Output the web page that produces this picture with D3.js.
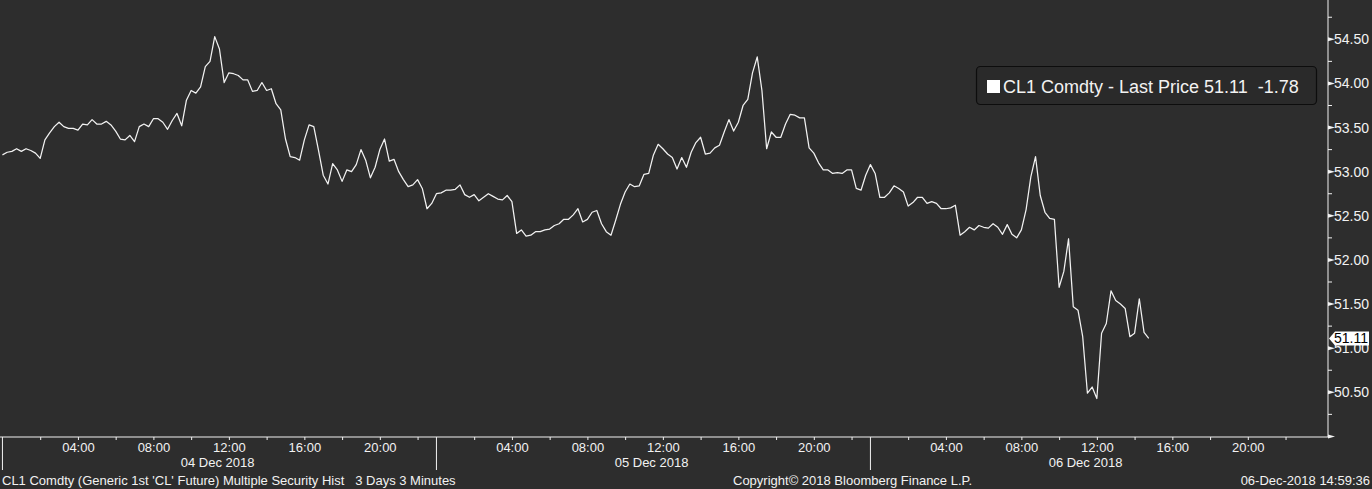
<!DOCTYPE html>
<html>
<head>
<meta charset="utf-8">
<script src="https://cdn.jsdelivr.net/npm/d3@7/dist/d3.min.js"></script>
<style>
html,body{margin:0;padding:0;background:#2d2d2d;}
svg{display:block;}
text{font-family:"Liberation Sans",Arial,sans-serif;}
</style>
</head>
<body>
<svg id="chart" width="1372" height="489"></svg>
<script>
// ---- data ----
const seriesName = "CL1 Comdty - Last Price";
const lastPrice = 51.11;
const netChange = -1.78;
const days = ["04 Dec 2018", "05 Dec 2018", "06 Dec 2018"];
const sessionHours = 23;          // trading hours per day (23:00-24:00 break)
const stepMinutes = 15;           // spacing of the sampled prices below
const hourTicks = [2,4,6,8,10,12,14,16,18,20,22];
const hourLabels = ["04:00","08:00","12:00","16:00","20:00"];
const priceTicks = [50.00,50.50,51.00,51.50,52.00,52.50,53.00,53.50,54.00,54.50];
const priceMinor = [50.25,50.75,51.25,51.75,52.25,52.75,53.25,53.75,54.25,54.75];
const prices = [
53.19,53.22,53.23,53.26,53.23,53.26,53.24,53.21,53.15,53.36,
53.44,53.51,53.56,53.51,53.49,53.49,53.47,53.54,53.53,53.59,
53.54,53.54,53.57,53.53,53.46,53.37,53.36,53.41,53.34,53.51,
53.54,53.51,53.60,53.60,53.56,53.48,53.58,53.66,53.52,53.81,
53.92,53.89,53.96,54.19,54.25,54.53,54.39,54.01,54.12,54.11,
54.09,54.04,54.04,53.91,53.92,54.01,53.92,53.94,53.77,53.70,
53.37,53.17,53.16,53.13,53.36,53.53,53.51,53.24,52.96,52.86,
53.09,53.02,52.89,53.02,53.00,53.08,53.25,53.13,52.93,53.05,
53.25,53.37,53.12,53.14,53.00,52.91,52.83,52.85,52.91,52.81,
52.58,52.64,52.75,52.76,52.79,52.79,52.80,52.85,52.74,52.71,
52.74,52.67,52.71,52.75,52.72,52.69,52.68,52.73,52.66,52.30,
52.34,52.27,52.28,52.32,52.32,52.34,52.35,52.39,52.41,52.46,
52.46,52.51,52.58,52.43,52.46,52.54,52.56,52.41,52.32,52.28,
52.45,52.63,52.77,52.86,52.83,52.84,52.97,52.98,53.19,53.31,
53.26,53.20,53.16,53.03,53.16,53.05,53.22,53.33,53.39,53.20,
53.21,53.27,53.30,53.45,53.59,53.46,53.56,53.75,53.82,54.12,
54.30,53.92,53.26,53.45,53.39,53.39,53.54,53.65,53.64,53.61,
53.61,53.27,53.21,53.10,53.02,53.02,52.98,52.99,52.98,53.02,
53.02,52.81,52.79,52.96,53.08,52.98,52.71,52.71,52.76,52.84,
52.81,52.77,52.61,52.65,52.71,52.71,52.64,52.66,52.64,52.58,
52.58,52.59,52.62,52.28,52.32,52.37,52.34,52.39,52.37,52.36,
52.41,52.37,52.29,52.40,52.29,52.25,52.34,52.57,52.94,53.17,
52.73,52.54,52.47,52.46,51.69,51.87,52.24,51.47,51.43,51.13,
50.49,50.56,50.43,51.17,51.28,51.65,51.54,51.50,51.45,51.13,
51.17,51.56,51.18,51.11
];
const footerLeft = "CL1 Comdty (Generic 1st 'CL' Future) Multiple Security Hist   3 Days 3 Minutes";
const footerMid = "Copyright\u00A9 2018 Bloomberg Finance L.P.";
const footerRight = "06-Dec-2018 14:59:36";

// ---- layout ----
const W = 1372, H = 489;
const axisX = 1328, axisY = 437;
const fg = "#f2f2f2";
const svg = d3.select("#chart");
svg.append("rect").attr("width", W).attr("height", H).attr("fill", "#2d2d2d");

// trading-time scale (hours since 04 Dec 00:00, excluding daily break)
const x = d3.scaleLinear().domain([-0.13, 70.25]).range([0, axisX]);
const y = d3.scaleLinear().domain([50.5, 54.5]).range([392.3, 39.3]);

// ---- line ----
const line = d3.line()
  .x((d, i) => x(i * stepMinutes / 60))
  .y(d => y(d));
svg.append("path").datum(prices)
  .attr("fill", "none").attr("stroke", fg).attr("stroke-width", 1.25)
  .attr("stroke-linejoin", "round").attr("d", line);

// ---- x axis ----
const tickTs = [];
days.forEach((d, di) => hourTicks.forEach(h => tickTs.push({t: di * sessionHours + h, h})));
const labelMap = {};
hourLabels.forEach(l => labelMap[+l.slice(0, 2)] = l);
const xAxis = d3.axisBottom(x)
  .tickValues(tickTs.map(d => d.t))
  .tickSize(3).tickPadding(3)
  .tickFormat((t, i) => labelMap[tickTs[i].h] || "");
const gx = svg.append("g").attr("transform", `translate(0,${axisY})`).call(xAxis);
gx.select(".domain").remove();
gx.selectAll(".tick line").attr("stroke", fg);
gx.selectAll(".tick text").attr("fill", fg).attr("font-size", 13);
svg.append("line").attr("x1", 0).attr("x2", axisX).attr("y1", axisY).attr("y2", axisY)
  .attr("stroke", fg).attr("stroke-width", 1);
// day separators
days.forEach((d, di) => {
  const sx = Math.max(0.5, x(di * sessionHours));
  svg.append("line").attr("x1", sx).attr("x2", sx).attr("y1", axisY).attr("y2", 470)
    .attr("stroke", fg).attr("stroke-width", 1);
  svg.append("text").attr("x", x(di * sessionHours + 11.4)).attr("y", 467)
    .attr("text-anchor", "middle").attr("fill", fg).attr("font-size", 13).text(d);
});

// ---- y axis ----
svg.append("line").attr("x1", axisX).attr("x2", axisX).attr("y1", 0).attr("y2", axisY)
  .attr("stroke", fg).attr("stroke-width", 1);
const yAxis = d3.axisRight(y).tickValues(priceTicks).tickSize(0).tickPadding(6)
  .tickFormat(v => v === 50 ? "" : v.toFixed(2));
const gy = svg.append("g").attr("transform", `translate(${axisX},0)`).call(yAxis);
gy.select(".domain").remove();
gy.selectAll(".tick text").attr("fill", fg).attr("font-size", 14);
priceTicks.forEach(v => {
  const ty = y(v);
  svg.append("path").attr("d", `M${axisX},${ty - 2}L${axisX + 7},${ty}L${axisX},${ty + 2}Z`).attr("fill", fg);
});
priceMinor.forEach(v => {
  svg.append("line").attr("x1", axisX).attr("x2", axisX + 4).attr("y1", y(v)).attr("y2", y(v))
    .attr("stroke", fg).attr("stroke-width", 1);
});

// last price marker
const ly = y(lastPrice);
svg.append("path")
  .attr("d", `M${axisX + 1},${ly}L${axisX + 7},${ly - 7}L1369,${ly - 7}L1369,${ly + 7}L${axisX + 7},${ly + 7}Z`)
  .attr("fill", "#ffffff");
svg.append("text").attr("x", 1351).attr("y", ly + 5).attr("text-anchor", "middle")
  .attr("fill", "#000").attr("font-size", 14).text(lastPrice.toFixed(2));

// ---- legend ----
const lg = svg.append("g");
lg.append("rect").attr("x", 976.5).attr("y", 66.5).attr("width", 340).attr("height", 38)
  .attr("rx", 4).attr("fill", "#2a2a2a").attr("stroke", "#0d0d0d").attr("stroke-width", 1.2);
lg.append("rect").attr("x", 987).attr("y", 80).attr("width", 13).attr("height", 13).attr("fill", "#ffffff");
lg.append("text").attr("x", 1003).attr("y", 92.5).attr("fill", fg).attr("font-size", 18)
  .style("white-space", "pre")
  .text(`${seriesName} ${lastPrice.toFixed(2)}  ${netChange.toFixed(2)}`);

// ---- footer ----
svg.append("text").attr("x", 2).attr("y", 485).attr("fill", fg).attr("font-size", 13)
  .style("white-space", "pre").text(footerLeft);
svg.append("text").attr("x", 733).attr("y", 485).attr("fill", fg).attr("font-size", 13).text(footerMid);
svg.append("text").attr("x", 1370).attr("y", 485).attr("text-anchor", "end").attr("fill", fg)
  .attr("font-size", 13).text(footerRight);
</script>
</body>
</html>
